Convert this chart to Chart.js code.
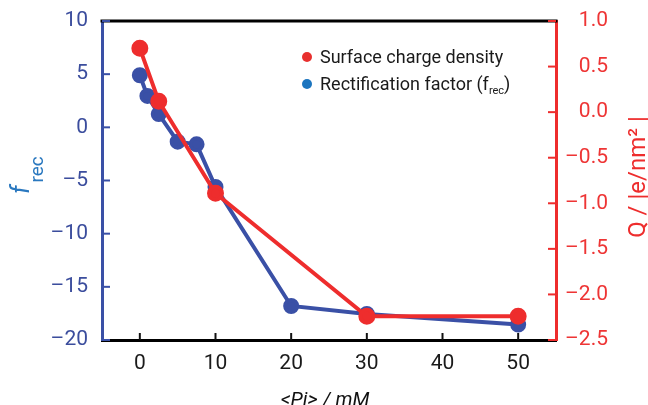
<!DOCTYPE html>
<html lang="en">
<head>
  <meta charset="UTF-8">
  <title>Rectification factor vs Pi</title>
  <script src="https://cdn.jsdelivr.net/npm/chart.js"></script>
  <style>
    body {
      margin: 0;
      background-color: white;
    }

    .wrap {
      position: relative;
      width: 648px;
      height: 405px;
    }
  </style>
</head>
<body>
  <div class="wrap">
    <canvas id="frecChart"></canvas>
  </div>

  <script>
    // Data
    const fracX = [0, 1, 2.5, 5, 7.5, 10, 20, 30, 50];
    const fracY = [4.9, 2.95, 1.25, -1.35, -1.6, -5.6, -16.8, -17.55, -18.55];
    const chargeX = [0, 2.5, 10, 30, 50];
    const chargeY = [0.7, 0.12, -0.89, -2.24, -2.24];

    const xTicks = [0, 10, 20, 30, 40, 50];
    const leftTicks = [-20, -15, -10, -5, 0, 5, 10];
    const rightTicks = [-2.5, -2.0, -1.5, -1.0, -0.5, 0.0, 0.5, 1.0];

    const BLUE = "#3a50a6";
    const RED = "#ee2d2d";

    function toPoints(xs, ys) {
      return xs.map((x, i) => ({ x: x, y: ys[i] }));
    }

    // the original labels use a longer dash for negatives
    function minusFmt(str) {
      return str.replace("-", "\u2013");
    }

    // keep the plot box where the original has it
    function fixVertical(width) {
      return s => {
        s.width = width;
        s.paddingTop = 0;
        s.paddingBottom = 0;
      };
    }

    // inward tick marks, top frame, axis titles and legend
    const decor = {
      id: "decor",
      afterDraw(chart) {
        const ctx = chart.ctx;
        const a = chart.chartArea;
        const sx = chart.scales.x, sy = chart.scales.y, sy1 = chart.scales.y1;
        ctx.save();

        ctx.lineWidth = 3;
        ctx.strokeStyle = "#000";
        ctx.beginPath();
        ctx.moveTo(a.left - 1.5, a.top);
        ctx.lineTo(a.right + 1.5, a.top);
        ctx.stroke();

        ctx.lineWidth = 2;
        ctx.strokeStyle = "#111";
        sx.ticks.forEach(t => {
          const px = sx.getPixelForValue(t.value);
          ctx.beginPath();
          ctx.moveTo(px, a.bottom);
          ctx.lineTo(px, a.bottom - 7);
          ctx.stroke();
        });
        ctx.strokeStyle = BLUE;
        sy.ticks.forEach(t => {
          const py = sy.getPixelForValue(t.value);
          ctx.beginPath();
          ctx.moveTo(a.left, py);
          ctx.lineTo(a.left + 8, py);
          ctx.stroke();
        });
        ctx.strokeStyle = RED;
        sy1.ticks.forEach(t => {
          const py = sy1.getPixelForValue(t.value);
          ctx.beginPath();
          ctx.moveTo(a.right, py);
          ctx.lineTo(a.right - 8, py);
          ctx.stroke();
        });

        // x title
        ctx.fillStyle = "#111";
        ctx.font = "italic 20px Roboto";
        ctx.textAlign = "center";
        ctx.textBaseline = "alphabetic";
        ctx.fillText("<Pi> / mM", 325, 406);

        // left title f_rec
        ctx.save();
        ctx.translate(29, 194);
        ctx.rotate(-Math.PI / 2);
        ctx.fillStyle = "#2a78bf";
        ctx.textAlign = "left";
        ctx.font = "italic 25px Roboto";
        ctx.fillText("f", 0, 0);
        const fw = ctx.measureText("f").width;
        ctx.font = "19px Roboto";
        ctx.fillText("rec", fw + 3, 13.5);
        ctx.restore();

        // right title
        ctx.save();
        ctx.translate(645, 177);
        ctx.rotate(-Math.PI / 2);
        ctx.fillStyle = RED;
        ctx.textAlign = "center";
        ctx.font = "24px Roboto";
        ctx.fillText("Q / |e/nm\u00b2 |", 0, 0);
        ctx.restore();

        // legend
        ctx.textAlign = "left";
        ctx.fillStyle = "#e8302e";
        ctx.beginPath();
        ctx.arc(307, 57, 5, 0, Math.PI * 2);
        ctx.fill();
        ctx.fillStyle = "#1c75bf";
        ctx.beginPath();
        ctx.arc(307, 84, 5, 0, Math.PI * 2);
        ctx.fill();

        ctx.fillStyle = "#1a1a1a";
        ctx.font = "18px Roboto";
        ctx.fillText("Surface charge density", 320, 63);
        const lead = "Rectification factor (f";
        ctx.fillText(lead, 320, 90);
        let cx = 320 + ctx.measureText(lead).width;
        ctx.font = "11px Roboto";
        ctx.fillText("rec", cx, 94);
        cx += ctx.measureText("rec").width;
        ctx.font = "18px Roboto";
        ctx.fillText(")", cx, 90);

        ctx.restore();
      }
    };

    const ctx = document.getElementById("frecChart").getContext("2d");
    new Chart(ctx, {
      type: "scatter",
      data: {
        datasets: [
          {
            label: "Surface charge density",
            data: toPoints(chargeX, chargeY),
            yAxisID: "y1",
            showLine: true,
            borderColor: RED,
            backgroundColor: RED,
            borderWidth: 4,
            pointRadius: 6.5,
            pointHoverRadius: 6.5,
            order: 1
          },
          {
            label: "Rectification factor (frec)",
            data: toPoints(fracX, fracY),
            yAxisID: "y",
            showLine: true,
            borderColor: BLUE,
            backgroundColor: BLUE,
            borderWidth: 4,
            pointRadius: 6,
            pointHoverRadius: 6,
            order: 2
          }
        ]
      },
      options: {
        responsive: true,
        maintainAspectRatio: false,
        animation: false,
        layout: { padding: { top: 21, left: 0, right: 40, bottom: 0 } },
        plugins: {
          legend: { display: false },
          tooltip: { enabled: false }
        },
        scales: {
          x: {
            type: "linear",
            min: -5,
            max: 55,
            afterBuildTicks: s => { s.ticks = xTicks.map(v => ({ value: v })); },
            afterFit: s => { s.height = 65; },
            grid: { display: false, drawTicks: false },
            border: { color: "#000", width: 3 },
            ticks: {
              padding: 11,
              color: "#1a1a1a",
              font: { family: "Roboto", size: 21 }
            }
          },
          y: {
            position: "left",
            min: -20,
            max: 10,
            afterBuildTicks: s => { s.ticks = leftTicks.map(v => ({ value: v })); },
            afterFit: fixVertical(102),
            grid: { display: false, drawTicks: false },
            border: { color: BLUE, width: 3 },
            ticks: {
              padding: 14,
              color: "#3b4d9d",
              font: { family: "Roboto", size: 21 },
              callback: v => minusFmt(String(v))
            }
          },
          y1: {
            position: "right",
            min: -2.5,
            max: 1.0,
            afterBuildTicks: s => { s.ticks = rightTicks.map(v => ({ value: v })); },
            afterFit: fixVertical(52),
            grid: { display: false, drawTicks: false },
            border: { color: RED, width: 3 },
            ticks: {
              padding: 13,
              crossAlign: "far",
              color: "#ee3535",
              font: { family: "Roboto", size: 21 },
              callback: v => minusFmt(v.toFixed(1))
            }
          }
        }
      },
      plugins: [decor]
    });
  </script>
</body>
</html>
